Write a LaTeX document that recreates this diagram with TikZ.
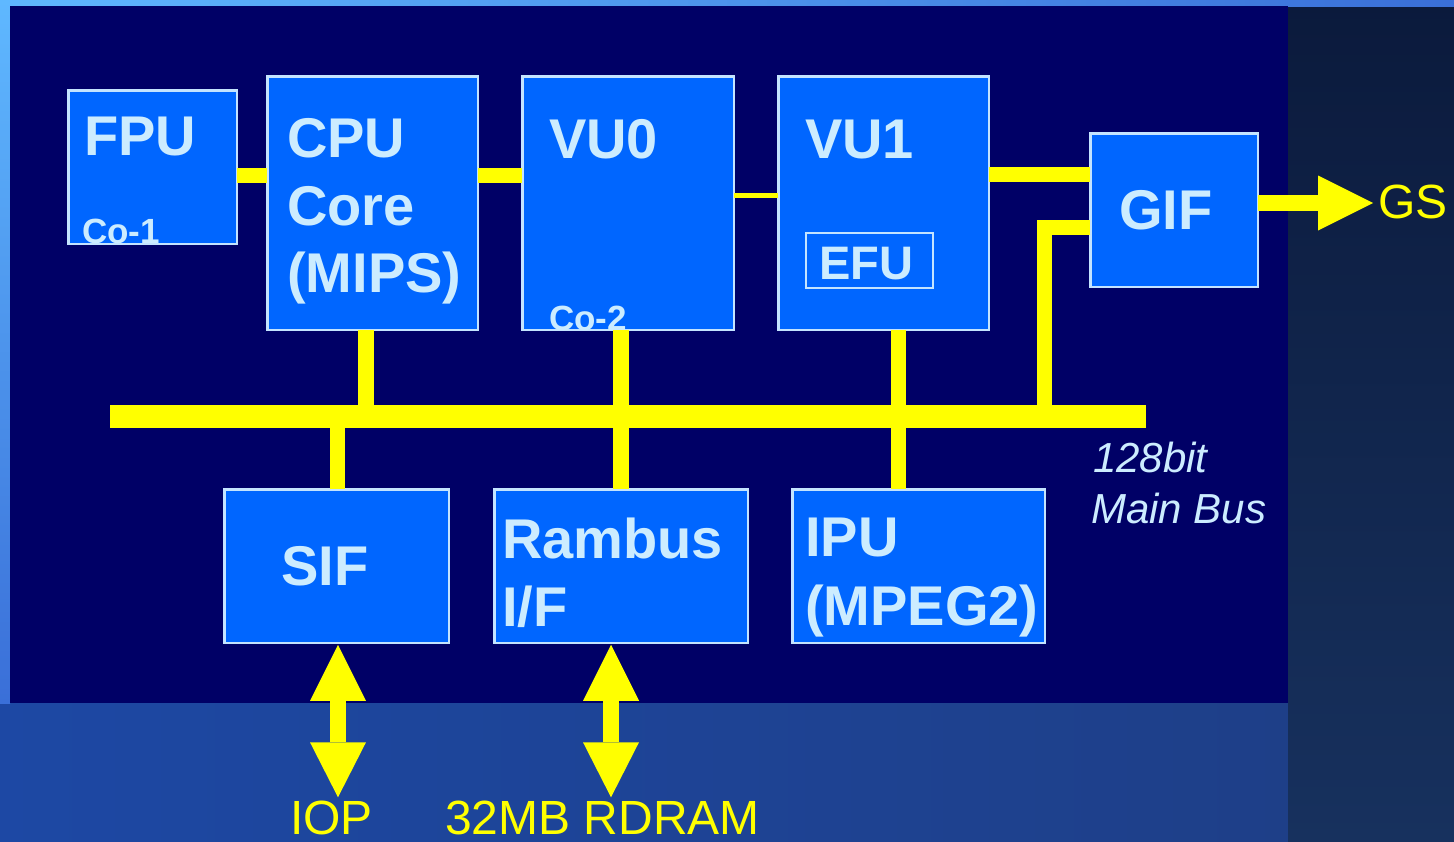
\documentclass[tikz,border=0pt]{standalone}
\usepackage{fontspec}
\setmainfont{Liberation Sans}
\usetikzlibrary{arrows.meta,calc}
\definecolor{navy}{HTML}{000066}
\definecolor{boxblue}{HTML}{0066FF}
\definecolor{pale}{HTML}{CCECFF}
\definecolor{edgec}{HTML}{C4E4FF}
\definecolor{ylw}{HTML}{FFFF00}
\definecolor{bgA}{HTML}{2A5CC8}
\definecolor{bgB}{HTML}{0C1530}
\definecolor{bgC}{HTML}{1D48A4}
\definecolor{bgD}{HTML}{1E3F88}
\definecolor{bgE}{HTML}{0B1A3C}
\definecolor{bgF}{HTML}{17315E}
\definecolor{bgG}{HTML}{5FB8FF}
\definecolor{bgH}{HTML}{3A6FD8}
\tikzset{
  blk/.style={draw=edgec, line width=2.5pt, fill=boxblue, inner sep=0pt, outer sep=0pt},
  lbl/.style={text=pale, font=\bfseries\fontsize{56}{67}\selectfont, anchor=base west, inner sep=0pt},
  smalllbl/.style={text=pale, font=\bfseries\fontsize{35}{40}\selectfont, anchor=base west, inner sep=0pt},
  efulbl/.style={text=pale, font=\bfseries\fontsize{47}{56}\selectfont, anchor=base west, inner sep=0pt},
  buslbl/.style={text=pale, font=\itshape\fontsize{42}{50}\selectfont, anchor=base west, inner sep=0pt},
  outlbl/.style={text=ylw, font=\fontsize{48}{56}\selectfont, anchor=base west, inner sep=0pt},
  wire/.style={draw=ylw, line width=#1, line join=miter}
}
\begin{document}
\begin{tikzpicture}[x=1pt,y=-1pt]
\useasboundingbox (0,0) rectangle (1454,841);
% background
\shade[left color=bgA, right color=bgB] (0,0) rectangle (1454,841);
\shade[left color=bgC, right color=bgD] (0,703) rectangle (1288,841);
\shade[top color=bgE, bottom color=bgF] (1288,0) rectangle (1454,841);
\shade[left color=bgG, right color=bgH] (0,0) rectangle (1454,6);
\shade[top color=bgG, bottom color=bgH] (0,0) rectangle (10,703);
\fill[navy] (10,6) rectangle (1288,703);

% blocks
\node[blk, minimum width=168.5pt, minimum height=153.5pt] (fpu) at (152.5,167) {};
\node[blk, minimum width=210.5pt, minimum height=253.5pt] (cpu) at (372.5,203) {};
\node[blk, minimum width=211.5pt, minimum height=253.5pt] (vu0) at (628,203) {};
\node[blk, minimum width=210.5pt, minimum height=253.5pt] (vu1) at (883.5,203) {};
\node[blk, line width=2pt, minimum width=127pt, minimum height=55pt] (efu) at (869.5,260.5) {};
\node[blk, minimum width=167.5pt, minimum height=153.5pt] (gif) at (1174,210) {};
\node[blk, minimum width=224.5pt, minimum height=153.5pt] (sif) at (336.5,566) {};
\node[blk, minimum width=253.5pt, minimum height=153.5pt] (rambus) at (621,566) {};
\node[blk, minimum width=252.5pt, minimum height=153.5pt] (ipu) at (918.5,566) {};

% bus
\node[fill=ylw, inner sep=0pt, outer sep=0pt, minimum width=1036pt, minimum height=23pt] (bus) at (628,416.5) {};

% labels
\node[lbl] (tfpu) at (84,155) {FPU};
\node[smalllbl] (tco1) at (82,243) {Co-1};
\node[lbl] (tcpu1) at (287,157) {CPU};
\node[lbl] (tcpu2) at (287,225) {Core};
\node[lbl] (tcpu3) at (287,292) {(MIPS)};
\node[lbl] (tvu0) at (549,158) {VU0};
\node[smalllbl] (tco2) at (549,330) {Co-2};
\node[lbl] (tvu1) at (805,158) {VU1};
\node[efulbl] (tefu) at (819,279) {EFU};
\node[lbl] (tgif) at (1119,229) {GIF};
\node[lbl] (tsif) at (281,585) {SIF};
\node[lbl] (tram1) at (502,558) {Rambus};
\node[lbl] (tram2) at (502,626) {I/F};
\node[lbl] (tipu1) at (805,556) {IPU};
\node[lbl] (tipu2) at (805,625) {(MPEG2)};
\node[buslbl] (tbus1) at (1093,472) {128bit};
\node[buslbl] (tbus2) at (1091,523) {Main Bus};
\node[outlbl] (gs) at (1378,218) {GS};
\node[outlbl] (iop) at (290,834) {IOP};
\node[outlbl] (rdram) at (445,834) {32MB RDRAM};

% point-to-point links
\draw[wire=15pt] ([yshift=-8pt]fpu.east) -- ([yshift=-8pt]fpu.east -| cpu.west);
\draw[wire=15pt] ([yshift=28pt]cpu.east) -- ([yshift=28pt]cpu.east -| vu0.west);
\draw[wire=5pt] ([yshift=7.5pt]vu0.east) -- ([yshift=7.5pt]vu0.east -| vu1.west);
\draw[wire=15pt] ([yshift=28.5pt]vu1.east) -- ([yshift=28.5pt]vu1.east -| gif.west);

% bus links
\draw[wire=16pt] ([xshift=-6.5pt]cpu.south) -- ([xshift=-6.5pt]cpu.south |- bus.center);
\draw[wire=16pt] (vu0.south -| rambus.north) -- (rambus.north);
\draw[wire=15pt] ([xshift=15pt]vu1.south) -- ([xshift=15pt]vu1.south |- ipu.north);
\draw[wire=15pt] ([xshift=1pt]sif.north) -- ([xshift=1pt]sif.north |- bus.center);
\coordinate (gbend) at (1044.5,227);
\draw[wire=15pt] ([yshift=-17pt]gif.west) -- (gbend) -- (gbend |- bus.center);

% external arrows
\draw[wire=16pt, -{Triangle[length=55pt,width=55pt,line width=0pt]}, shorten >=5pt] ([yshift=7pt]gif.east) -- ([yshift=7pt]gif.east -| gs.west);
\draw[wire=16pt, {Triangle[length=56pt,width=56pt,line width=0pt]}-{Triangle[length=55pt,width=56pt,line width=0pt]}, shorten <=2pt, shorten >=3pt] ([xshift=1.5pt]sif.south) -- ([xshift=1.5pt]sif.south |- iop.north);
\draw[wire=16pt, {Triangle[length=56pt,width=56pt,line width=0pt]}-{Triangle[length=55pt,width=56pt,line width=0pt]}, shorten <=2pt, shorten >=3pt] ([xshift=-10pt]rambus.south) -- ([xshift=-10pt]rambus.south |- rdram.north);
\end{tikzpicture}
\end{document}
